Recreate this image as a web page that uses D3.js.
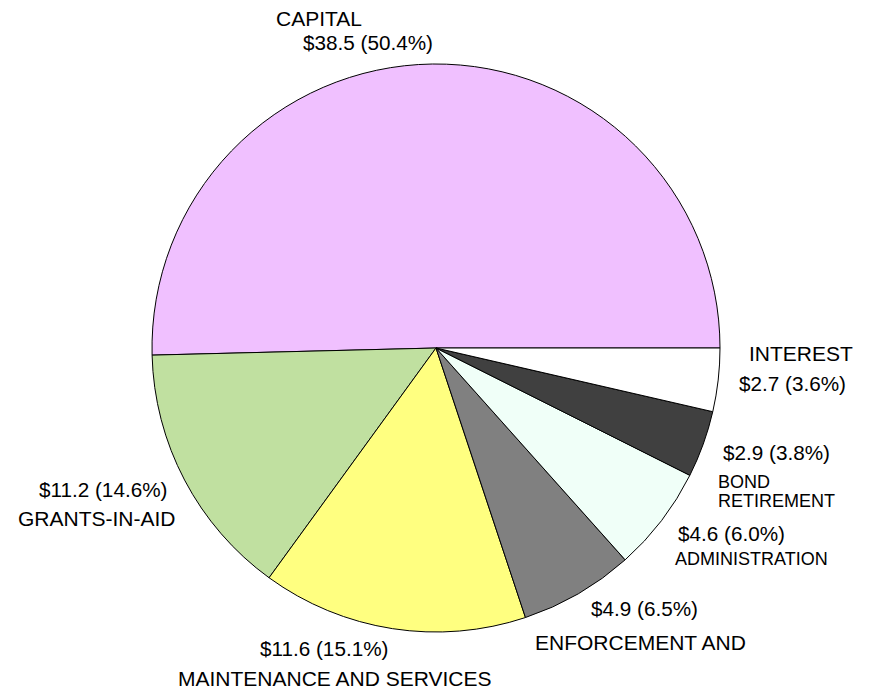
<!DOCTYPE html>
<html>
<head>
<meta charset="utf-8">
<script src="https://cdn.jsdelivr.net/npm/d3@7"></script>
<style>
  html, body { margin: 0; padding: 0; background: #fff; }
  svg { display: block; }
  .lbl { font-family: "Liberation Sans", Arial, sans-serif; fill: #000; }
</style>
</head>
<body>
<div id="chart"></div>
<script>
// Budget categories, counterclockwise from 3 o'clock
const categories = ['CAPITAL', 'GRANTS-IN-AID', 'MAINTENANCE AND SERVICES', 'ENFORCEMENT AND',
  'ADMINISTRATION', 'BOND RETIREMENT', 'INTEREST'];
const amounts = [38.5, 11.2, 11.6, 4.9, 4.6, 2.9, 2.7];
const percents = [50.4, 14.6, 15.1, 6.5, 6.0, 3.8, 3.6];
const colors = ['#f0c0ff', '#c0e0a0', '#ffff80', '#808080', '#f0fff8', '#404040', '#ffffff'];

// label layout: name lines + value line placement (px in the page)
const labelLayout = [
  { name: ['CAPITAL'], nx: 276, ny: 26, vx: 303, vy: 50, size: 21 },
  { name: ['GRANTS-IN-AID'], nx: 18, ny: 526, vx: 39, vy: 497, size: 21 },
  { name: ['MAINTENANCE AND SERVICES'], nx: 178, ny: 686, vx: 260, vy: 656, size: 21 },
  { name: ['ENFORCEMENT AND'], nx: 535, ny: 650, vx: 591, vy: 616, size: 21 },
  { name: ['ADMINISTRATION'], nx: 675, ny: 565, vx: 678, vy: 541, size: 18 },
  { name: ['BOND', 'RETIREMENT'], nx: 718, ny: 488, vx: 723, vy: 460, size: 18, lh: 19 },
  { name: ['INTEREST'], nx: 749, ny: 361, vx: 739, vy: 391, size: 21 }
];
const valueFontSize = 20.7;

const width = 869, height = 696;
const cx = 436, cy = 348, radius = 284;

const svg = d3.select('#chart').append('svg')
  .attr('width', width).attr('height', height);

const data = categories.map((c, i) => ({ name: c, value: amounts[i], pct: percents[i], color: colors[i] }));

// start at east, sweep counterclockwise
const pie = d3.pie()
  .sort(null)
  .value(d => d.pct)
  .startAngle(Math.PI / 2)
  .endAngle(Math.PI / 2 - 2 * Math.PI);

const arc = d3.arc().innerRadius(0).outerRadius(radius);

const g = svg.append('g').attr('transform', `translate(${cx},${cy})`);

g.selectAll('path')
  .data(pie(data))
  .enter().append('path')
  .attr('d', arc)
  .attr('fill', d => d.data.color)
  .attr('stroke', '#000')
  .attr('stroke-width', 1)
  .attr('stroke-linejoin', 'round');

// labels
const labels = svg.append('g');
data.forEach((d, i) => {
  const L = labelLayout[i];
  labels.append('text')
    .attr('class', 'lbl')
    .attr('x', L.vx).attr('y', L.vy)
    .attr('font-size', valueFontSize)
    .text(`$${d.value.toFixed(1)} (${d.pct.toFixed(1)}%)`);
  L.name.forEach((line, j) => {
    labels.append('text')
      .attr('class', 'lbl')
      .attr('x', L.nx).attr('y', L.ny + j * (L.lh || 0))
      .attr('font-size', L.size)
      .text(line);
  });
});
</script>
</body>
</html>
